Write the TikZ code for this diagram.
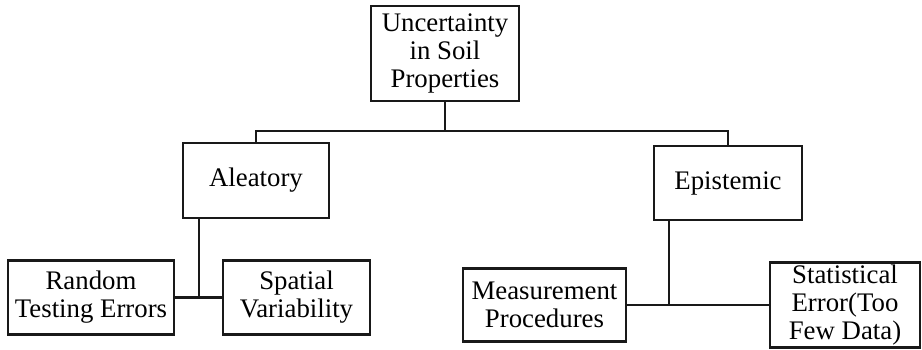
\documentclass[tikz,border=0pt]{standalone}
\usepackage{fontspec}
\setmainfont{Liberation Serif}
\begin{document}
\begin{tikzpicture}[x=1pt,y=-1pt,
  box/.style={draw=black!90, line width=2.6pt, align=center, inner sep=0pt,
    font=\fontsize{26.8}{28}\selectfont, text=black},
  wire/.style={draw=black!90, line width=2.8pt}]
\useasboundingbox (0,0) rectangle (922,350);
\node[box, minimum width=148pt, minimum height=95pt] (top) at (445,53.5) {Uncertainty\\in Soil\\Properties};
\node[box, minimum width=146pt, minimum height=75pt] (alea) at (256,180.5) {Aleatory};
\node[box, minimum width=148pt, minimum height=74pt] (epi) at (728,183) {Epistemic};
\node[box, minimum width=166pt, minimum height=74pt] (rand) at (91,297.5) {Random\\Testing Errors};
\node[box, minimum width=147pt, minimum height=74pt] (spat) at (296.5,297.5) {Spatial\\Variability};
\node[box, minimum width=163pt, minimum height=73pt] (meas) at (544.5,305) {Measurement\\Procedures};
\node[box, minimum width=150pt, minimum height=85pt] (stat) at (845,305) {Statistical\\Error(Too\\Few Data)};
\coordinate (j) at (445,131);
\coordinate (ja) at (199,297.5);
\coordinate (je) at (669,305);
\draw[wire] (top.south) -- (j);
\draw[wire] (alea.north) |- (j) -| (epi.north);
\draw[wire] (alea.south -| ja) -- (ja);
\draw[wire] (rand.east) -- (spat.west);
\draw[wire] (epi.south -| je) -- (je);
\draw[wire] (meas.east) -- (stat.west);
\end{tikzpicture}
\end{document}
